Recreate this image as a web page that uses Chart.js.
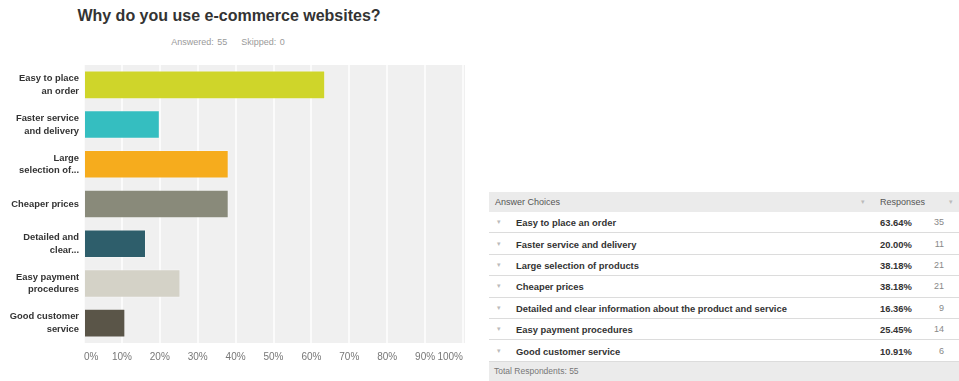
<!DOCTYPE html>
<html>
<head>
<meta charset="utf-8">
<script src="https://cdn.jsdelivr.net/npm/chart.js@4"></script>
<style>
  body { margin: 0; width: 959px; height: 381px; background: #fff; position: relative; overflow: hidden;
         font-family: "Liberation Sans", Arial, sans-serif; }
  #title { position: absolute; left: 0; width: 458px; top: 7px; text-align: center;
           font-size: 16px; font-weight: bold; color: #333; }
  #sub { position: absolute; left: 0; width: 456px; top: 37px; text-align: center;
         font-size: 9px; color: #9a9a9a; word-spacing: 1px; }
  #wrap { position: absolute; left: 0; top: 0; width: 480px; height: 381px; }
  #tbl { position: absolute; left: 489px; top: 192px; width: 470px; font-size: 9px; color: #333; }
  .row { position: relative; height: 20.4px; border-bottom: 1px solid #dcdcdc; }
  .row span { position: absolute; top: 50%; transform: translateY(-50%); }
  .head { height: 20px; background: #ebebeb; border-bottom: none; color: #555; }
  .foot { height: 19px; background: #ebebeb; border-bottom: none; color: #777; font-size: 8.5px; }
  .arrow { color: #bbb; font-size: 7px; }
  .lbl { left: 27px; font-weight: bold; font-size: 9.4px; }
  .pct { left: 391px; font-weight: bold; font-size: 9.4px; }
  .cnt { right: 15px; color: #888; }
</style>
</head>
<body>
<div id="title">Why do you use e-commerce websites?</div>
<div id="sub">Answered: 55&nbsp;&nbsp;&nbsp;&nbsp;Skipped: 0</div>
<div id="wrap"><canvas id="chart" width="480" height="381"></canvas></div>
<div id="tbl"></div>
<script>
// 回答データ
const shortLabels = [
    ["Easy to place", "an order"],
    ["Faster service", "and delivery"],
    ["Large", "selection of..."],
    "Cheaper prices",
    ["Detailed and", "clear..."],
    ["Easy payment", "procedures"],
    ["Good customer", "service"],
];
const fullLabels = [
    "Easy to place an order",
    "Faster service and delivery",
    "Large selection of products",
    "Cheaper prices",
    "Detailed and clear information about the product and service",
    "Easy payment procedures",
    "Good customer service",
];
const percents = [63.64, 20.00, 38.18, 38.18, 16.36, 25.45, 10.91];
const counts = [35, 11, 21, 21, 9, 14, 6];
const barColors = ["#cfd52a", "#35bec0", "#f6ac1d", "#898a7a", "#2e5e6b", "#d4d2c7", "#5a5548"];
const totalRespondents = 55;

// グラフ背景
const plotBg = {
    id: "plotBg",
    beforeDraw(chart) {
        const a = chart.chartArea;
        const ctx = chart.ctx;
        ctx.save();
        ctx.fillStyle = "#f0f0f0";
        ctx.fillRect(a.left, a.top, a.right - a.left + 2, a.bottom - a.top);
        ctx.restore();
    },
};

const ctx = document.getElementById("chart").getContext("2d");
new Chart(ctx, {
    type: "bar",
    data: {
        labels: shortLabels,
        datasets: [{
            data: percents,
            backgroundColor: barColors,
            borderColor: "rgba(255, 255, 255, 0.3)",
            borderWidth: 1,
            barPercentage: 0.72,
            categoryPercentage: 1,
        }],
    },
    options: {
        indexAxis: "y",
        responsive: false,
        animation: false,
        layout: { padding: { top: 65, right: 17, bottom: 0, left: 0 } },
        plugins: { legend: { display: false }, tooltip: { enabled: false } },
        scales: {
            x: {
                min: 0,
                max: 100,
                afterFit: (s) => { s.height = 38; },
                border: { display: false },
                grid: { color: "rgba(255, 255, 255, 0.7)", lineWidth: 2, drawTicks: false },
                ticks: {
                    stepSize: 10,
                    align: "inner",
                    padding: 8,
                    color: "#777",
                    font: { family: "Liberation Sans", size: 10 },
                    callback: (v) => v + "%",
                },
            },
            y: {
                afterFit: (s) => { s.width = 84; },
                border: { display: false },
                grid: { display: false, drawTicks: false },
                ticks: {
                    padding: 5,
                    color: "#333",
                    font: { family: "Liberation Sans", size: 9.4, weight: "bold", lineHeight: 1.35 },
                },
            },
        },
    },
    plugins: [plotBg],
});

// 回答表
const tbl = document.getElementById("tbl");
let html = '<div class="row head"><span style="left:6px">Answer Choices</span>' +
    '<span class="arrow" style="left:372px">&#9662;</span>' +
    '<span style="left:391px">Responses</span>' +
    '<span class="arrow" style="left:460px">&#9662;</span></div>';
fullLabels.forEach((name, i) => {
    html += '<div class="row"><span class="arrow" style="left:8px">&#9662;</span>' +
        '<span class="lbl">' + name + '</span>' +
        '<span class="pct">' + percents[i].toFixed(2) + '%</span>' +
        '<span class="cnt">' + counts[i] + '</span></div>';
});
html += '<div class="row foot"><span style="left:5px">Total Respondents: ' + totalRespondents + '</span></div>';
tbl.innerHTML = html;
</script>
</body>
</html>
